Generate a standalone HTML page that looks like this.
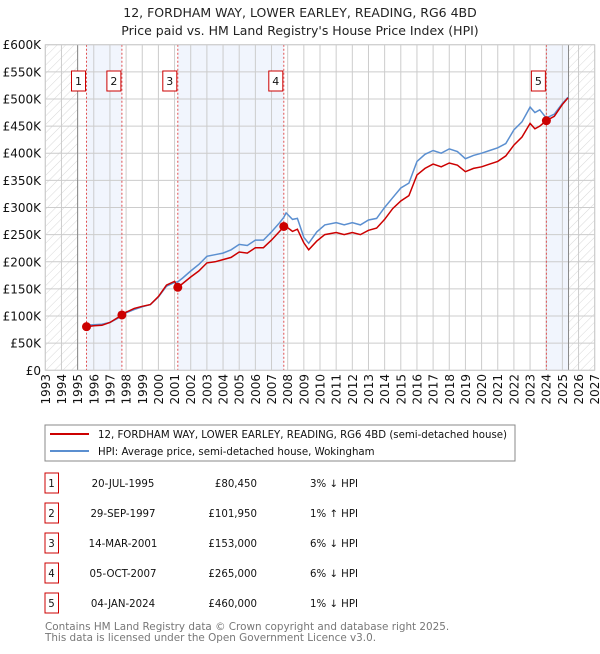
<!DOCTYPE html>
<html><head><meta charset="utf-8"><style>
body{margin:0;background:#fff;width:600px;height:650px;overflow:hidden;font-family:"DejaVu Sans","Liberation Sans",sans-serif}
svg text{font-family:"DejaVu Sans","Liberation Sans",sans-serif}
</style></head><body>
<svg id="chart" width="600" height="650" xmlns="http://www.w3.org/2000/svg">
<defs><pattern id="hatch" width="6" height="6" patternUnits="userSpaceOnUse" patternTransform="rotate(45)"><line x1="0" y1="0" x2="0" y2="6" stroke="#d8d8d8" stroke-width="1"/></pattern></defs>
<text x="300" y="17" text-anchor="middle" font-size="12.5" fill="#222">12, FORDHAM WAY, LOWER EARLEY, READING, RG6 4BD</text>
<text x="300" y="35" text-anchor="middle" font-size="12.5" fill="#222">Price paid vs. HM Land Registry's House Price Index (HPI)</text>
<g id="plot"></g>
<g>
<rect x="45" y="425" width="470" height="36" fill="#fff" stroke="#888"/>
<line x1="50" y1="434" x2="89" y2="434" stroke="#cc0000" stroke-width="2"/>
<text x="98" y="438" font-size="10.2" fill="#111">12, FORDHAM WAY, LOWER EARLEY, READING, RG6 4BD (semi-detached house)</text>
<line x1="50" y1="451" x2="89" y2="451" stroke="#5b8fd0" stroke-width="2"/>
<text x="98" y="455" font-size="10.2" fill="#111">HPI: Average price, semi-detached house, Wokingham</text>
</g>
<g id="table"></g>
<text x="45" y="630" font-size="10.4" fill="#777">Contains HM Land Registry data © Crown copyright and database right 2025.</text>
<text x="45" y="641" font-size="10.4" fill="#777">This data is licensed under the Open Government Licence v3.0.</text>
</svg>
<script>
const dates=[1995.5,1996,1996.5,1997,1997.75,1998,1998.5,1999,1999.5,2000,2000.5,2001,2001.2,2001.5,2002,2002.5,2003,2003.5,2004,2004.5,2005,2005.5,2006,2006.5,2007,2007.5,2007.76,2007.9,2008.3,2008.6,2009,2009.3,2009.8,2010.3,2011,2011.5,2012,2012.5,2013,2013.5,2014,2014.5,2015,2015.5,2016,2016.5,2017,2017.5,2018,2018.5,2019,2019.5,2020,2020.5,2021,2021.5,2022,2022.5,2023,2023.3,2023.6,2024,2024.5,2025,2025.35];
const hpi=[83,84,85,88,100,106,112,117,121,135,155,162,163,170,183,195,210,213,216,222,232,230,240,240,255,272,282,290,278,280,245,234,255,268,272,268,272,268,277,280,300,318,336,345,385,398,405,400,408,403,390,396,400,405,410,418,443,458,485,475,480,465,472,492,503];
const price=[80,82,83,88,102,107,114,118,121,136,157,164,153,160,172,183,198,200,204,208,218,216,226,226,240,256,265,265,256,260,235,222,238,250,254,250,254,250,258,262,278,298,312,322,360,372,380,375,382,378,366,372,375,380,385,395,415,430,455,445,450,460,468,490,502];
const saleDates=[1995.55,1997.74,2001.2,2007.76,2024.01];
const salePrices=[80.45,101.95,153,265,460];
const saleLabels=["1","2","3","4","5"];
const saleDateText=["20-JUL-1995","29-SEP-1997","14-MAR-2001","05-OCT-2007","04-JAN-2024"];
const salePriceText=["£80,450","£101,950","£153,000","£265,000","£460,000"];
const saleHpiText=["3% ↓ HPI","1% ↑ HPI","6% ↓ HPI","6% ↓ HPI","1% ↓ HPI"];
const yTicks=[0,50,100,150,200,250,300,350,400,450,500,550,600];
const yTickLabels=["£0","£50K","£100K","£150K","£200K","£250K","£300K","£350K","£400K","£450K","£500K","£550K","£600K"];
const xTicks=[1993,1994,1995,1996,1997,1998,1999,2000,2001,2002,2003,2004,2005,2006,2007,2008,2009,2010,2011,2012,2013,2014,2015,2016,2017,2018,2019,2020,2021,2022,2023,2024,2025,2026,2027];
const dataStart=1995, dataEnd=2025.38;

const X0=45.3,X1=594.7,Y0=370.3,Y1=44.7;
const sx=v=>X0+(v-1993)/(2027-1993)*(X1-X0);
const sy=v=>Y0-v/600*(Y0-Y1);
const NS="http://www.w3.org/2000/svg";
const plot=document.getElementById('plot');
function mk(tag,attrs,parent){const e=document.createElementNS(NS,tag);for(const k in attrs)e.setAttribute(k,attrs[k]);(parent||plot).appendChild(e);return e;}
let e=mk('rect',{x:X0,y:Y1,width:sx(dataStart)-X0,height:Y0-Y1,fill:'url(#hatch)'});


e=mk('rect',{x:sx(dataEnd),y:Y1,width:X1-sx(dataEnd),height:Y0-Y1,fill:'url(#hatch)'});


const bands=[[0,1],[2,3]];
bands.forEach((b,i)=>{const r=mk('rect',{x:sx(saleDates[b[0]]),y:Y1,width:sx(saleDates[b[1]])-sx(saleDates[b[0]]),height:Y0-Y1,fill:'#f1f5fd'});

});
e=mk('rect',{x:sx(saleDates[4]),y:Y1,width:sx(dataEnd)-sx(saleDates[4]),height:Y0-Y1,fill:'#f1f5fd'});


yTicks.forEach((t,i)=>{const l=mk('line',{x1:X0,x2:X1,y1:sy(t),y2:sy(t),stroke:'#ccc','stroke-width':1});


const tx=mk('text',{x:41,y:sy(t)+4.5,'text-anchor':'end','font-size':12,fill:'#111'});tx.textContent=yTickLabels[i];

});
xTicks.forEach(t=>{const l=mk('line',{x1:sx(t),x2:sx(t),y1:Y1,y2:Y0,stroke:'#ccc','stroke-width':1});


const tx=mk('text',{x:0,y:0,'text-anchor':'end','font-size':12,fill:'#111',transform:`translate(${sx(t)+4.5},374) rotate(-90)`});tx.textContent=t;

});
[dataStart,dataEnd].forEach(d=>{const l=mk('line',{x1:sx(d),x2:sx(d),y1:Y1,y2:Y0,stroke:'#888','stroke-width':1});

});
saleDates.forEach(d=>{const l=mk('line',{x1:sx(d),x2:sx(d),y1:Y1,y2:Y0,stroke:'#e05050','stroke-width':1,'stroke-dasharray':'2,2'});

});
const path=arr=>dates.map((d,i)=>(i?'L':'M')+sx(d).toFixed(1)+','+sy(arr[i]).toFixed(1)).join('');
e=mk('path',{d:path(hpi),fill:'none',stroke:'#5b8fd0','stroke-width':1.5});


e=mk('path',{d:path(price),fill:'none',stroke:'#cc0000','stroke-width':1.5});


saleDates.forEach((d,i)=>{const c=mk('circle',{cx:sx(d),cy:sy(salePrices[i]),r:4.5,fill:'#cc0000'});


const g=mk('g',{});


mk('rect',{x:sx(d)-15,y:71,width:14,height:20,fill:'#fff',stroke:'#cc0000'},g);
const t=mk('text',{x:sx(d)-8,y:85,'text-anchor':'middle','font-size':11,fill:'#111'},g);t.textContent=saleLabels[i];});
mk('rect',{x:X0,y:Y1,width:X1-X0,height:Y0-Y1,fill:'none',stroke:'#ccc'});
const tb=document.getElementById('table');
const rowY=[483,513,543,573,603];
saleLabels.forEach((lab,i)=>{const g=mk('g',{},tb);


const y=rowY[i];
mk('rect',{x:45,y:y-10,width:13.5,height:20,fill:'#fff',stroke:'#cc0000'},g);
let t=mk('text',{x:51.5,y:y+4,'text-anchor':'middle','font-size':10.2,fill:'#111'},g);t.textContent=lab;
t=mk('text',{x:123,y:y+4,'text-anchor':'middle','font-size':10.2,fill:'#111'},g);t.textContent=saleDateText[i];
t=mk('text',{x:257,y:y+4,'text-anchor':'end','font-size':10.2,fill:'#111'},g);t.textContent=salePriceText[i];
t=mk('text',{x:310,y:y+4,'font-size':10.2,fill:'#111'},g);t.textContent=saleHpiText[i];});
</script>
</body></html>
